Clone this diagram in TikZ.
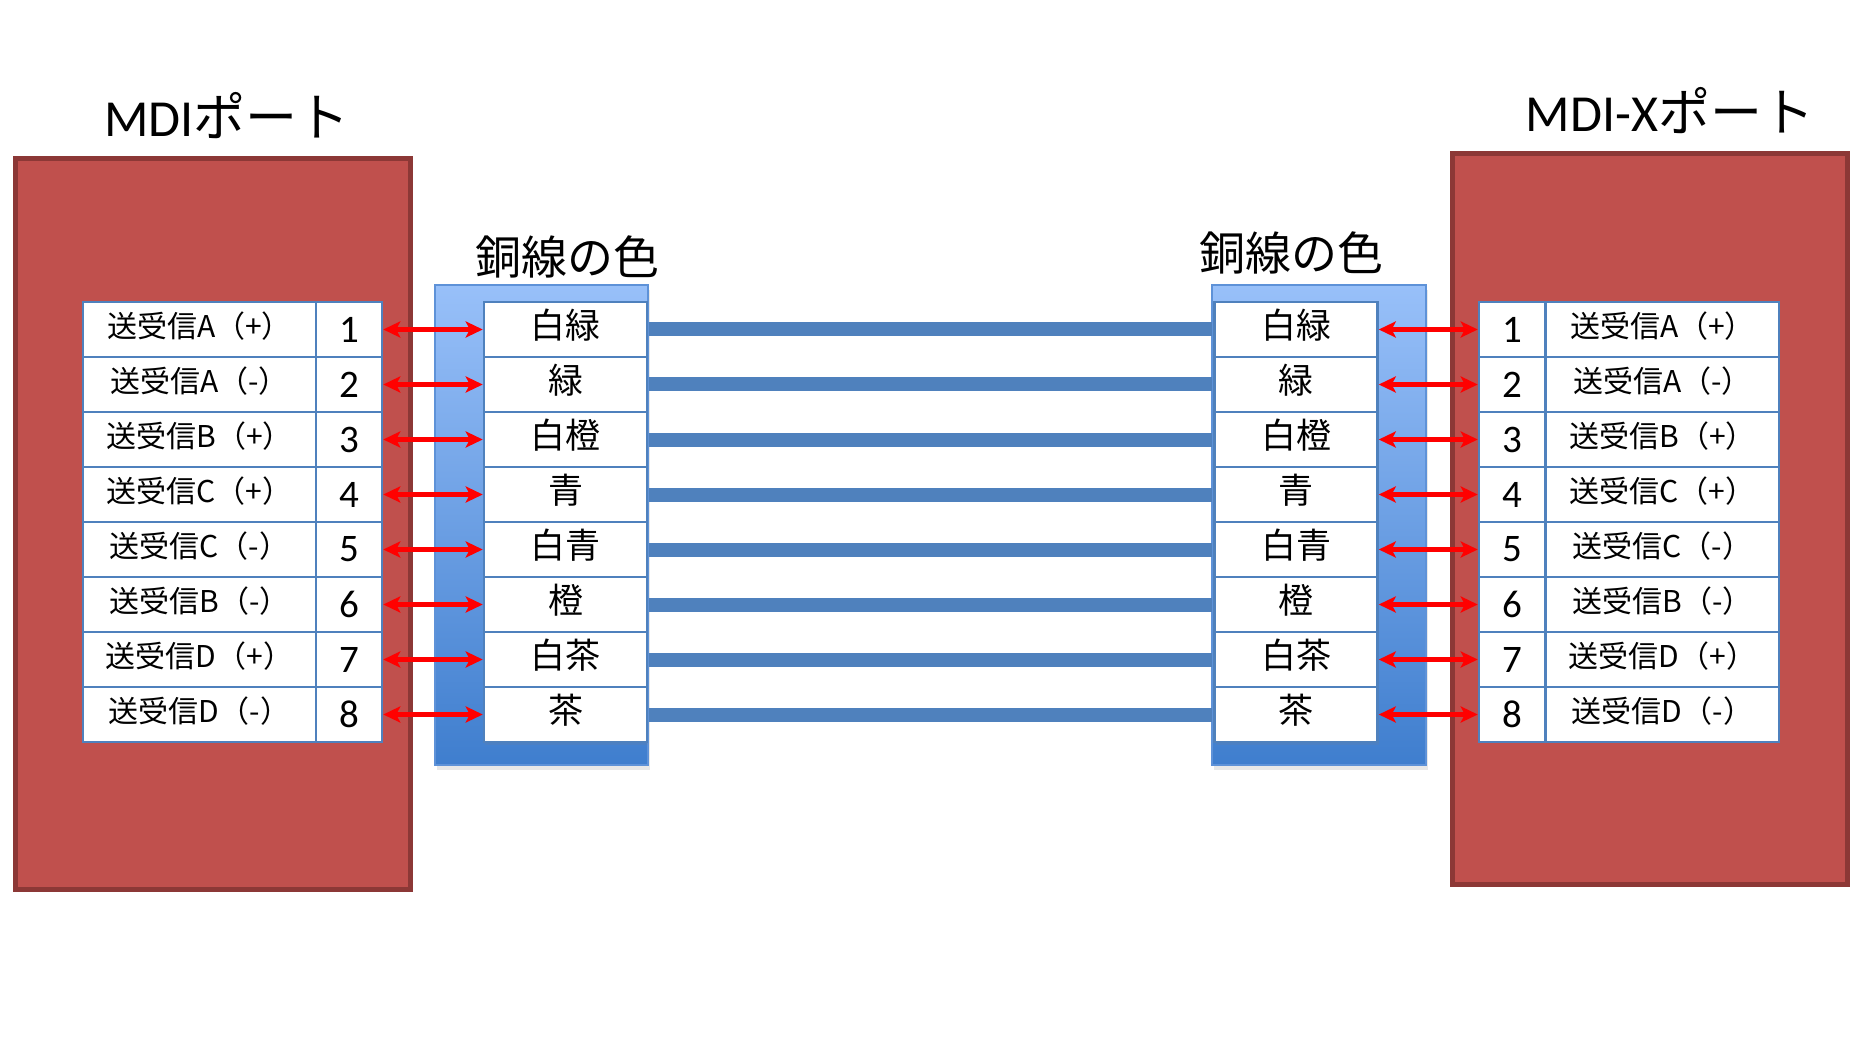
\documentclass[tikz,border=0pt]{standalone}
\usepackage{fontspec}
\newfontfamily\jpfont{Noto Sans CJK JP}
\newfontfamily\latfont{Carlito}
\usetikzlibrary{arrows.meta,shadows}
\definecolor{portred}{HTML}{C0504D}
\definecolor{portedge}{HTML}{8C3836}
\definecolor{cellblue}{HTML}{4F81BD}
\definecolor{paneltop}{HTML}{98C0F9}
\definecolor{panelbot}{HTML}{3F7ECE}
\definecolor{paneledge}{HTML}{5E92D8}
\definecolor{wire}{HTML}{4F81BD}
\definecolor{arrowred}{HTML}{FF0000}
\tikzset{
  portbox/.style={fill=portred, draw=portedge, line width=5pt, inner sep=0pt},
  panelbox/.style={top color=paneltop, bottom color=panelbot, draw=paneledge, line width=1.5pt, inner sep=0pt,
    drop shadow={opacity=0.18, shadow xshift=2pt, shadow yshift=-5pt}},
  cellbase/.style={draw=cellblue, fill=white, line width=2.5pt, inner sep=0pt, minimum height=55pt},
  labelcell/.style={cellbase, minimum width=233pt,
    label={[font=\jpfont\fontsize{30}{30}\selectfont, inner sep=0pt, yshift=3pt]center:#1}},
  numcell/.style={cellbase, minimum width=66pt, font=\latfont\fontsize{39}{40}\selectfont},
  colorcell/.style={cellbase, minimum width=163pt,
    drop shadow={opacity=0.15, shadow xshift=1pt, shadow yshift=-3pt},
    label={[font=\jpfont\fontsize{35}{36}\selectfont, inner sep=0pt, yshift=4pt]center:#1}},
  wireline/.style={draw=wire, line width=14pt, shorten <=1.2pt, shorten >=1.2pt},
  link/.style={draw=arrowred, line width=4.5pt,
    {Stealth[length=17pt,width=16pt,inset=4pt]}-{Stealth[length=17pt,width=16pt,inset=4pt]}},
  porttitle/.style={font=\jpfont\fontsize{52}{60}\selectfont, inner sep=0pt},
  wiretitle/.style={font=\jpfont\fontsize{46}{50}\selectfont, inner sep=0pt},
}
\begin{document}
\begin{tikzpicture}[x=1pt,y=-1pt]
\useasboundingbox[fill=white] (0,0) rectangle (1850,1056);
% port boxes
\node[portbox, minimum width=395pt, minimum height=731pt] (lport) at (212.5,524) {};
\node[portbox, minimum width=395pt, minimum height=731pt] (rport) at (1650,519) {};
% titles
\node[porttitle] (ltitle) at (227,116) {{\latfont MDI}ポート};
\node[porttitle] (rtitle) at (1670,111) {{\latfont MDI-X}ポート};
\node[wiretitle] (lwt) at (567,257) {銅線の色};
\node[wiretitle] (rwt) at (1291,253) {銅線の色};
% panels
\node[panelbox, minimum width=213pt, minimum height=480pt] (lpanel) at (541.5,525) {};
\node[panelbox, minimum width=214pt, minimum height=480pt] (rpanel) at (1319,525) {};
% cells
\foreach \i/\lab/\col in {1/{送受信A（+）}/白緑, 2/{送受信A（-）}/緑, 3/{送受信B（+）}/白橙, 4/{送受信C（+）}/青,
                          5/{送受信C（-）}/白青, 6/{送受信B（-）}/橙, 7/{送受信D（+）}/白茶, 8/{送受信D（-）}/茶} {
  \node[labelcell=\lab] (L\i) at (199.5,{274.5+55*\i}) {};
  \node[numcell]   (N\i) at (349,{274.5+55*\i}) {\i};
  \node[colorcell=\col] (C\i) at (565.5,{274.5+55*\i}) {};
  \node[colorcell=\col] (D\i) at (1296,{274.5+55*\i}) {};
  \node[numcell]   (M\i) at (1512,{274.5+55*\i}) {\i};
  \node[labelcell=\lab] (R\i) at (1662.5,{274.5+55*\i}) {};
}
% wires and links
\foreach \i in {1,...,8} {
  \draw[wireline] (C\i.east) -- (D\i.west);
  \draw[link] (N\i.east) -- (C\i.west);
  \draw[link] (D\i.east) -- (M\i.west);
}
\end{tikzpicture}
\end{document}
